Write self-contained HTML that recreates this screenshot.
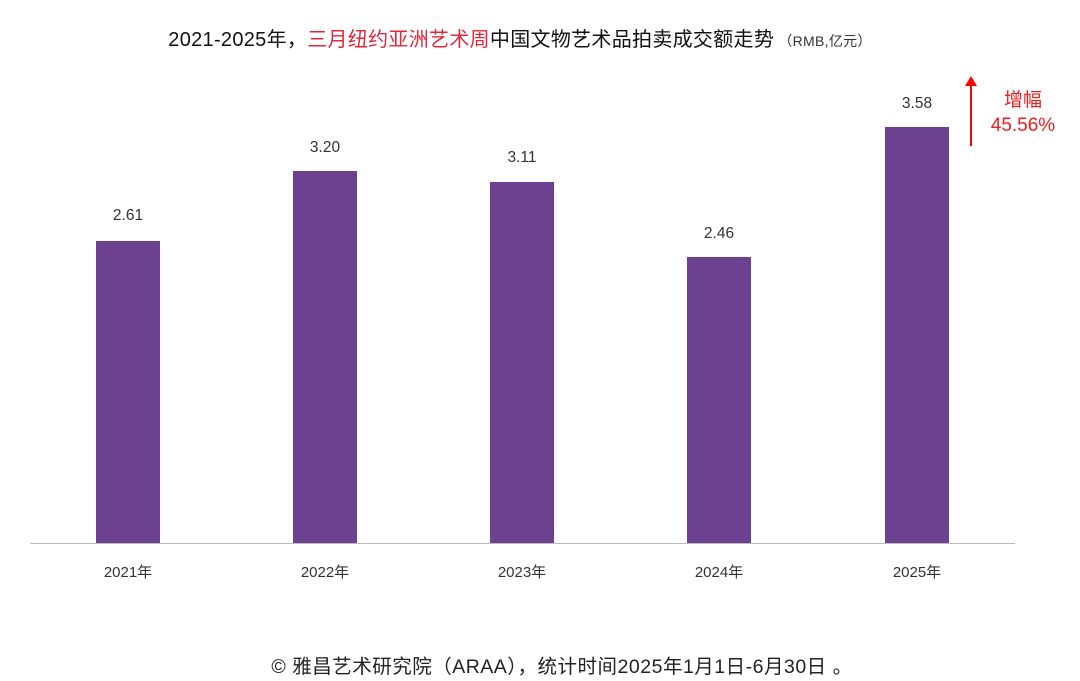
<!DOCTYPE html>
<html><head><meta charset="utf-8"><style>
body{margin:0;width:1080px;height:681px;background:#fff;overflow:hidden;font-family:"Liberation Sans","Noto Sans CJK SC",sans-serif;position:relative;color:#222}
.t{position:absolute;white-space:nowrap}
.bar{position:absolute;background:#6b4190;width:64px}
.v{position:absolute;width:100px;text-align:center;font-size:15.5px;color:#333}
.y{position:absolute;width:100px;text-align:center;font-size:15px;color:#333;top:561px}
</style></head><body>
<div class="t" style="left:0;width:1040px;text-align:center;top:23px;font-size:20px;color:#111;letter-spacing:0.3px">2021-2025年，<span style="color:#e0283c">三月纽约亚洲艺术周</span>中国文物艺术品拍卖成交额走势<span style="font-size:14px;color:#333"> （RMB,亿元）</span></div>
<div class="bar" style="left:96px;top:241px;height:302px"></div>
<div class="bar" style="left:293px;top:171px;height:372px"></div>
<div class="bar" style="left:490px;top:182px;height:361px"></div>
<div class="bar" style="left:687px;top:257px;height:286px"></div>
<div class="bar" style="left:885px;top:127px;height:416px"></div>
<div style="position:absolute;left:30px;top:543px;width:985px;height:1px;background:#bbb"></div>
<div class="v" style="left:78px;top:207px">2.61</div>
<div class="v" style="left:275px;top:139px">3.20</div>
<div class="v" style="left:472px;top:149px">3.11</div>
<div class="v" style="left:669px;top:225px">2.46</div>
<div class="v" style="left:867px;top:95px">3.58</div>
<div class="y" style="left:78px">2021年</div>
<div class="y" style="left:275px">2022年</div>
<div class="y" style="left:472px">2023年</div>
<div class="y" style="left:669px">2024年</div>
<div class="y" style="left:867px">2025年</div>
<svg style="position:absolute;left:960px;top:74px" width="24" height="74"><line x1="11" y1="8" x2="11" y2="72" stroke="#f00" stroke-width="2"/><polygon points="5,12 11,2 17,12" fill="#f00"/></svg>
<div class="t" style="left:990px;top:88px;width:66px;text-align:center;font-size:19px;color:#f01e1e;line-height:25px">增幅<br>45.56%</div>
<div class="t" style="left:0;width:1124px;text-align:center;top:650px;font-size:19.5px;color:#222;letter-spacing:0.5px">© 雅昌艺术研究院（ARAA），统计时间2025年1月1日-6月30日 。</div>
</body></html>
